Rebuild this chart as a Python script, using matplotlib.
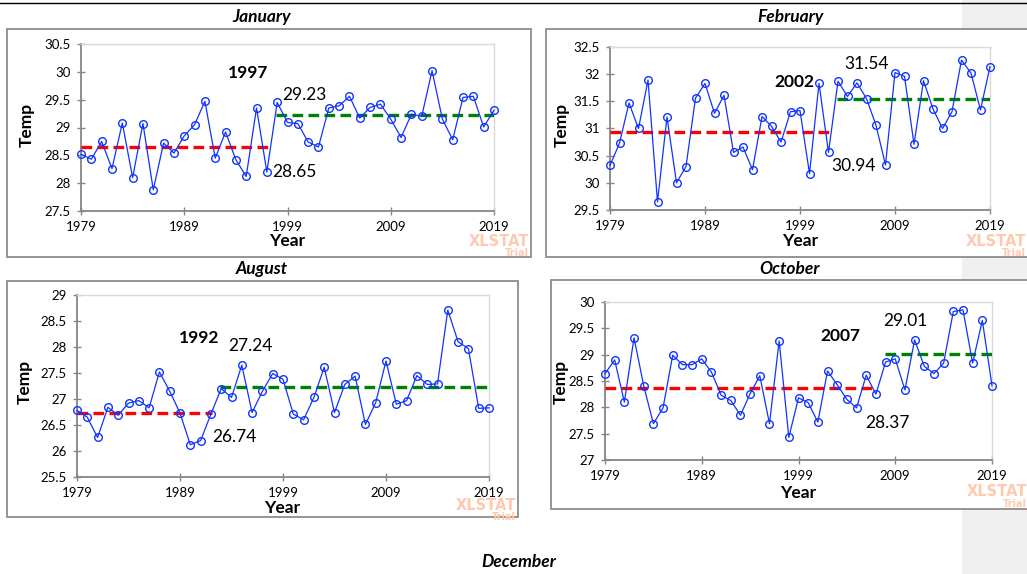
import matplotlib
matplotlib.use("Agg")
import matplotlib.pyplot as plt
from matplotlib.patches import Rectangle
from matplotlib.lines import Line2D
import numpy as np

plt.rcParams['font.family'] = ['Lato', 'DejaVu Sans']

years = list(range(1979, 2020))

jan = [28.52, 28.43, 28.75, 28.26, 29.08, 28.10, 29.07, 27.88, 28.72, 28.54,
       28.85, 29.05, 29.47, 28.45, 28.92, 28.42, 28.12, 29.35, 28.20, 29.45,
       29.09, 29.07, 28.74, 28.65, 29.35, 29.39, 29.56, 29.17, 29.36, 29.42,
       29.15, 28.82, 29.24, 29.20, 30.02, 29.15, 28.78, 29.54, 29.56, 29.01,
       29.31]
feb = [30.32, 30.73, 31.47, 31.00, 31.89, 29.65, 31.21, 30.00, 30.30, 31.56,
       31.83, 31.28, 31.61, 30.56, 30.66, 30.24, 31.22, 31.04, 30.75, 31.31,
       31.33, 30.17, 31.83, 30.56, 31.87, 31.59, 31.84, 31.55, 31.06, 30.33,
       32.03, 31.96, 30.71, 31.88, 31.36, 31.00, 31.31, 32.26, 32.02, 31.34,
       32.14]
aug = [26.78, 26.65, 26.26, 26.84, 26.69, 26.92, 26.97, 26.83, 27.52, 27.15,
       26.73, 26.12, 26.20, 26.71, 27.20, 27.03, 27.65, 26.74, 27.15, 27.49,
       27.38, 26.71, 26.60, 27.03, 27.61, 26.74, 27.28, 27.44, 26.51, 26.93,
       27.73, 26.90, 26.97, 27.45, 27.28, 27.29, 28.71, 28.10, 27.97, 26.82,
       26.83]
octo = [28.64, 28.90, 28.10, 29.32, 28.41, 27.69, 27.99, 28.99, 28.81, 28.81,
        28.92, 28.67, 28.23, 28.13, 27.85, 28.26, 28.60, 27.69, 29.26, 27.43,
        28.18, 28.09, 27.72, 28.69, 28.43, 28.15, 27.99, 28.61, 28.25, 28.86,
        28.92, 28.33, 29.28, 28.78, 28.64, 28.84, 29.82, 29.85, 28.84, 29.65,
        28.41]

titles = ["January", "February", "August", "October"]
series = [jan, feb, aug, octo]
change_years = [1997, 2002, 1992, 2007]
mean_before = [28.65, 30.94, 26.74, 28.37]
mean_after = [29.23, 31.54, 27.24, 29.01]
ylims = [(27.5, 30.5), (29.5, 32.5), (25.5, 29.0), (27.0, 30.0)]
xticks = [1979, 1989, 1999, 2009, 2019]

W, H = 1027, 574
fig = plt.figure(figsize=(W / 100, H / 100), dpi=100)
fig.patch.set_facecolor('white')

def fr(x0, y0, x1, y1):
    return [x0 / W, 1 - y1 / H, (x1 - x0) / W, (y1 - y0) / H]

# page background at right
fig.patches.append(Rectangle((962 / W, 0), (W - 962) / W, 1, transform=fig.transFigure,
                             facecolor='#f0f0f0', edgecolor='none', zorder=0))
# top rule
fig.add_artist(Line2D([0, 1], [1 - 3 / H, 1 - 3 / H], transform=fig.transFigure,
                      color='black', lw=1.0))

frames = [(7, 29, 531, 257), (546, 29, 1040, 257), (7, 281, 518, 517), (551, 280, 1040, 509)]
axes_px = [(81, 44, 494, 211), (610, 47, 990, 210), (77, 295, 489, 477), (605, 302, 992, 460)]
title_pos = [(262, 17), (790, 17), (262, 269), (790, 269)]
ylab_pos = [(27, 125), (562, 125), (25, 382), (561, 382)]
xlab_pos = [(287, 241), (800, 241), (282, 508), (798, 493)]
wm_pos = [(529, 241), (1026, 241), (516, 505), (1027, 492)]
year_txt = [(0.404, 0.826), (0.484, 0.785), (0.296, 0.764), (0.607, 0.785)]
after_txt = [(0.542, 0.695), (0.674, 0.896), (0.420, 0.720), (0.775, 0.880)]
before_txt = [(0.516, 0.234), (0.642, 0.270), (0.381, 0.220), (0.729, 0.234)]

for i in range(4):
    x0, y0, x1, y1 = frames[i]
    fig.patches.append(Rectangle((x0 / W, 1 - y1 / H), (x1 - x0) / W, (y1 - y0) / H,
                                 transform=fig.transFigure, facecolor='white',
                                 edgecolor='#8c8c8c', lw=1.3, zorder=1))
    ax = fig.add_axes(fr(*axes_px[i]))
    ax.set_zorder(2)
    ax.set_facecolor('none')
    y = series[i]
    cy = change_years[i]
    ax.plot(years, y, color='#1133ff', lw=0.9, marker='o', markersize=5.5,
            markerfacecolor='none', markeredgecolor='#1133ff', markeredgewidth=1.0,
            zorder=4, clip_on=False)
    ax.plot([1979, cy + 0.1], [mean_before[i]] * 2, color='#ff0000', lw=2.4,
            dashes=(3.2, 1.6), zorder=3)
    ax.plot([cy + 0.9, 2019], [mean_after[i]] * 2, color='#008000', lw=2.4,
            dashes=(3.2, 1.6), zorder=3)
    ax.set_xlim(1979, 2019)
    ax.set_ylim(*ylims[i])
    ax.set_xticks(xticks)
    ax.set_yticks(np.arange(ylims[i][0], ylims[i][1] + 0.01, 0.5))
    ax.yaxis.set_major_formatter(plt.FuncFormatter(lambda v, p: ('%g' % v)))
    for s in ['left', 'bottom']:
        ax.spines[s].set_color('#868686')
        ax.spines[s].set_linewidth(1.3)
    for s in ['top', 'right']:
        ax.spines[s].set_color('#d9d9d9')
        ax.spines[s].set_linewidth(1.0)
    ax.tick_params(direction='inout', length=6, width=1.0, color='#868686',
                   labelsize=9.5, pad=4.5, labelcolor='black')
    ax.text(*year_txt[i], str(cy), transform=ax.transAxes, ha='center', va='center',
            fontsize=12.5, fontweight='bold')
    ax.text(*after_txt[i], '%.2f' % mean_after[i], transform=ax.transAxes, ha='center',
            va='center', fontsize=12.5)
    ax.text(*before_txt[i], '%.2f' % mean_before[i], transform=ax.transAxes, ha='center',
            va='center', fontsize=12.5)
    tx, ty = title_pos[i]
    fig.text(tx / W, 1 - ty / H, titles[i], ha='center', va='center', fontsize=12.5,
             fontweight='bold', style='italic')
    lx, ly = ylab_pos[i]
    fig.text(lx / W, 1 - ly / H, 'Temp', ha='center', va='center', rotation=90,
             fontsize=12.5, fontweight='bold', zorder=5)
    lx, ly = xlab_pos[i]
    fig.text(lx / W, 1 - ly / H, 'Year', ha='center', va='center', fontsize=12.5,
             fontweight='bold', zorder=5)
    wx, wy = wm_pos[i]
    fig.text(wx / W, 1 - wy / H, 'XLSTAT', ha='right', va='center', fontsize=10.5,
             fontweight='bold', color='#ffc9b0', family='DejaVu Sans', zorder=5)
    fig.text(wx / W, 1 - (wy + 12) / H, 'Trial', ha='right', va='center', fontsize=7,
             fontweight='bold', color='#ffc9b0', family='DejaVu Sans', zorder=5)

fig.text(519 / W, 1 - 562 / H, 'December', ha='center', va='center', fontsize=12.5,
         fontweight='bold', style='italic')

fig.savefig('out.png', dpi=100)
